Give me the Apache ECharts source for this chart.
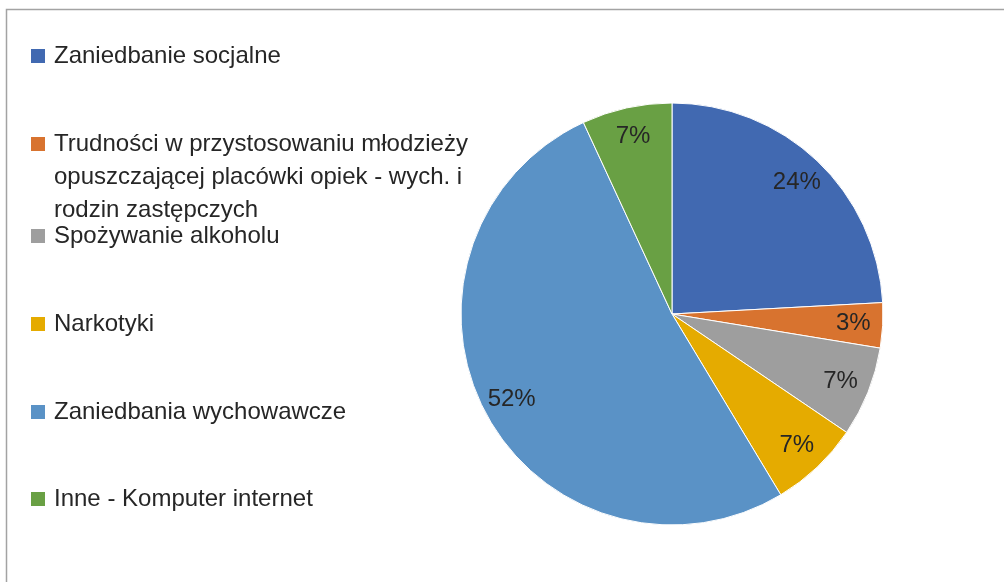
<!DOCTYPE html>
<html>
<head>
<meta charset="utf-8">
<script src="https://cdn.jsdelivr.net/npm/echarts@6/dist/echarts.min.js"></script>
<style>
  html, body { margin: 0; padding: 0; background: #fff; }
  #chart { width: 1004px; height: 582px; }
</style>
</head>
<body>
<div id="chart"></div>
<script>
// kategorie i liczby odpowiedzi
var names = [
  'Zaniedbanie socjalne',
  'Trudności w przystosowaniu młodzieży opuszczającej placówki opiek - wych. i rodzin zastępczych',
  'Spożywanie alkoholu',
  'Narkotyki',
  'Zaniedbania wychowawcze',
  'Inne - Komputer internet'
];
var counts = [7, 1, 2, 2, 15, 2];
// tekst legendy (z łamaniem wierszy jak w oryginale)
var legendText = [
  'Zaniedbanie socjalne',
  'Trudności w przystosowaniu młodzieży\nopuszczającej placówki opiek - wych. i\nrodzin zastępczych',
  'Spożywanie alkoholu',
  'Narkotyki',
  'Zaniedbania wychowawcze',
  'Inne - Komputer internet'
];
var colors = ['#4169b1', '#d8732f', '#9e9e9e', '#e5ab00', '#5a92c6', '#69a044'];

var font = "'Liberation Sans', Arial, sans-serif";
var lineH = 33;
var legendCenters = [56, 144, 236, 324, 412, 499];

var pieData = names.map(function (n, i) {
  return { name: n, value: counts[i], itemStyle: { color: colors[i] } };
});

var legends = names.map(function (n, i) {
  var lines = legendText[i].split('\n');
  // puste wiersze na początku, żeby znacznik stał przy pierwszym wierszu
  var extra = lines.length - 1;
  var txt = new Array(extra + 1).join('\n') + legendText[i];
  var blockH = (lines.length + extra) * lineH;
  return {
    orient: 'vertical',
    left: 31,
    top: legendCenters[i] - blockH / 2,
    padding: 0,
    itemWidth: 14,
    itemHeight: 14,
    icon: 'rect',
    itemStyle: { borderWidth: 0 },
    selectedMode: false,
    data: [n],
    formatter: function () { return txt; },
    textStyle: {
      fontFamily: font,
      fontSize: 24,
      color: '#262626',
      lineHeight: lineH,
      padding: [0, 0, 0, 4]
    }
  };
});

var myChart = echarts.init(document.getElementById('chart'));
myChart.setOption({
  backgroundColor: '#fff',
  animation: false,
  legend: legends,
  graphic: [{
    type: 'rect',
    shape: { x: 6.5, y: 9.5, width: 1200, height: 1200 },
    style: { fill: 'none', stroke: '#a3a3a3', lineWidth: 1.5 },
    silent: true
  }],
  series: [
    {
      name: 'main',
      type: 'pie',
      center: [672, 314],
      radius: [0, 211],
      startAngle: 90,
      clockwise: true,
      label: { show: false },
      labelLine: { show: false },
      itemStyle: { borderColor: '#fff', borderWidth: 1 },
      data: pieData
    },
    {
      // przezroczysty pierścień tylko dla etykiet procentowych
      name: 'labels',
      type: 'pie',
      center: [672, 314],
      radius: [146, 211],
      startAngle: 90,
      clockwise: true,
      silent: true,
      itemStyle: { color: 'rgba(0,0,0,0)', borderWidth: 0 },
      labelLine: { show: false },
      label: {
        show: true,
        position: 'inside',
        fontFamily: font,
        fontSize: 24,
        color: '#262626',
        formatter: function (p) { return Math.round(p.percent) + '%'; }
      },
      data: names.map(function (n, i) { return { name: n, value: counts[i] }; })
    }
  ]
});
</script>
</body>
</html>
